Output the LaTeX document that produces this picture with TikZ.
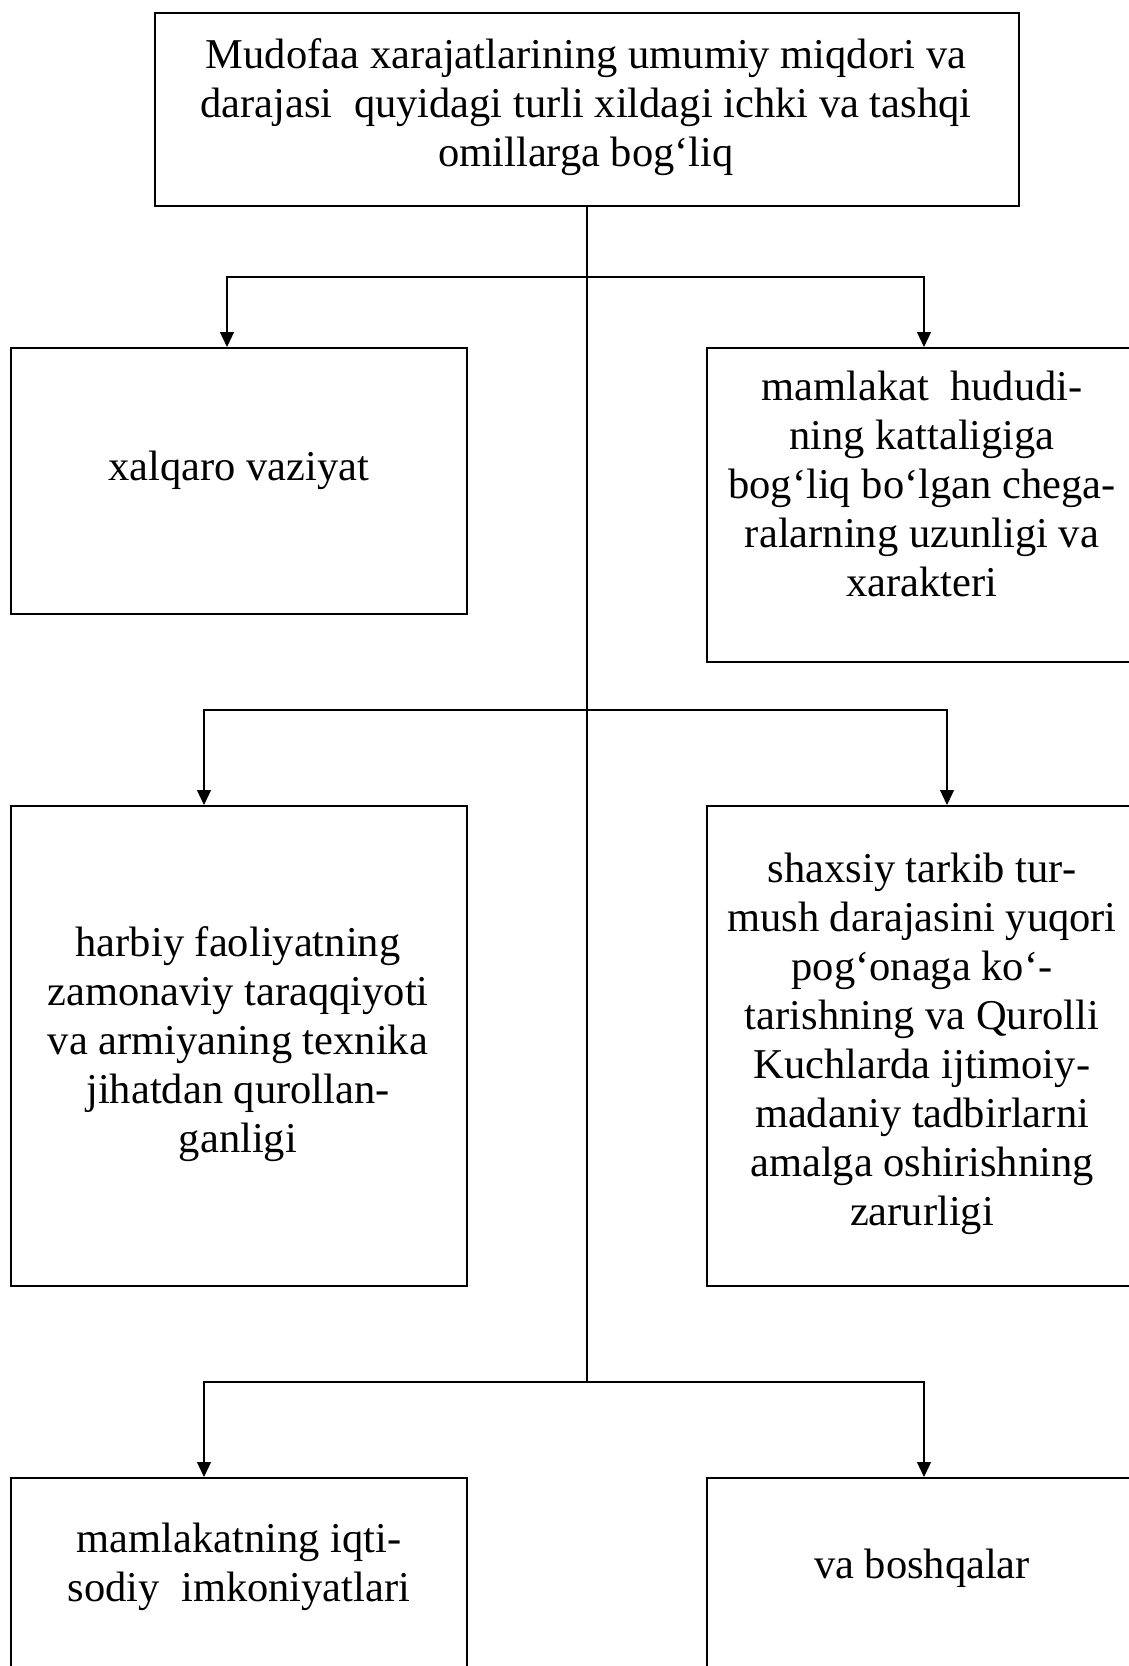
\documentclass[tikz,border=0pt]{standalone}
\usepackage{fontspec}
\setmainfont{Liberation Serif}
\usetikzlibrary{arrows.meta}
\begin{document}
\begin{tikzpicture}[x=0.5pt,y=-0.5pt,
  box/.style={draw, line width=1pt, rectangle, inner sep=0pt},
  txt/.style={anchor=north, align=center, inner sep=0pt, font=\fontsize{21.25pt}{24.5pt}\selectfont},
  conn/.style={line width=0.6pt},
  arr/.style={conn, -{Triangle[length=7.5pt,width=7pt]}}]
\useasboundingbox (0,0) rectangle (1129,1666);

% boxes
\node[box, minimum width=432pt, minimum height=96.5pt] (top) at (587,109.5) {};
\node[box, minimum width=228pt, minimum height=133pt] (L1) at (239,481) {};
\node[box, minimum width=215pt, minimum height=157pt] (R1) at (922,505) {};
\node[box, minimum width=228pt, minimum height=240pt] (L2) at (239,1046) {};
\node[box, minimum width=215pt, minimum height=240pt] (R2) at (922,1046) {};
\node[box, minimum width=228pt, minimum height=121pt] (L3) at (239,1599) {};
\node[box, minimum width=215pt, minimum height=121pt] (R3) at (922,1599) {};

% texts
\node[txt] (ttop) at (586,38) {Mudofaa xarajatlarining umumiy miqdori va\\darajasi~~quyidagi turli xildagi ichki va tashqi\\omillarga bog‘liq};
\node[txt] (tL1) at (239,451) {xalqaro vaziyat};
\node[txt] (tR1) at (922,371) {mamlakat~~hududi-\\ning kattaligiga\\bog‘liq bo‘lgan chega-\\ralarning uzunligi va\\xarakteri};
\node[txt] (tL2) at (238,926) {harbiy faoliyatning\\zamonaviy taraqqiyoti\\va armiyaning texnika\\jihatdan qurollan-\\ganligi};
\node[txt] (tR2) at (922,853) {shaxsiy tarkib tur-\\mush darajasini yuqori\\pog‘onaga ko‘-\\tarishning va Qurolli\\Kuchlarda ijtimoiy-\\madaniy tadbirlarni\\amalga oshirishning\\zarurligi};
\node[txt] (tL3) at (239,1523) {mamlakatning iqti-\\sodiy~~imkoniyatlari};
\node[txt] (tR3) at (922,1549) {va boshqalar};

% junctions
\coordinate (j1) at (587,277);
\coordinate (j2) at (587,710);
\coordinate (j3) at (587,1382);

% connectors
\draw[conn] (top.south) -- (j3);
\draw[arr] (j1) -| ([xshift=-6pt]L1.north);
\draw[arr] (j1) -| ([xshift=1pt]R1.north);
\draw[arr] (j2) -| ([xshift=-17.5pt]L2.north);
\draw[arr] (j2) -| ([xshift=12.5pt]R2.north);
\draw[arr] (j3) -| ([xshift=-17.5pt]L3.north);
\draw[arr] (j3) -| ([xshift=1pt]R3.north);
\end{tikzpicture}
\end{document}
